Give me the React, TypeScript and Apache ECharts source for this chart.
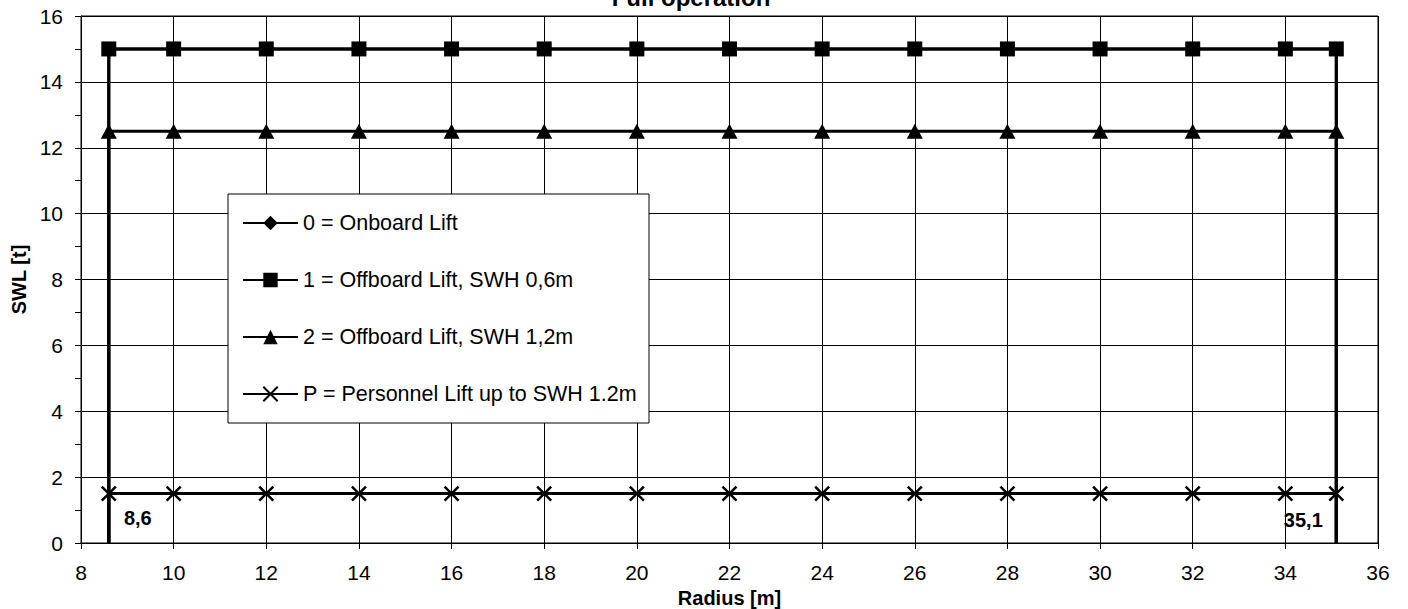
import React, { useEffect, useRef } from "react";
import * as echarts from "echarts";

const FONT = "'Liberation Sans', Arial, Helvetica, sans-serif";

const titleText = "Full operation";
const xAxisName = "Radius [m]";
const yAxisName = "SWL [t]";

const radiusPoints = [8.6, 10, 12, 14, 16, 18, 20, 22, 24, 26, 28, 30, 32, 34, 35.1];
const onboardLift = [15, 15, 15, 15, 15, 15, 15, 15, 15, 15, 15, 15, 15, 15, 15];
const offboard06 = [15, 15, 15, 15, 15, 15, 15, 15, 15, 15, 15, 15, 15, 15, 15];
const offboard12 = [12.5, 12.5, 12.5, 12.5, 12.5, 12.5, 12.5, 12.5, 12.5, 12.5, 12.5, 12.5, 12.5, 12.5, 12.5];
const personnel = [1.5, 1.5, 1.5, 1.5, 1.5, 1.5, 1.5, 1.5, 1.5, 1.5, 1.5, 1.5, 1.5, 1.5, 1.5];

const seriesNames = [
  "0 = Onboard Lift",
  "1 = Offboard Lift, SWH 0,6m",
  "2 = Offboard Lift, SWH 1,2m",
  "P = Personnel Lift up to SWH 1.2m",
];

const limitRadii = [8.6, 35.1];
const limitLabels = ["8,6", "35,1"];

const X_PATH = "path://M0 0 L10 10 M10 0 L0 10";

function buildData(values: number[]) {
  const pts: any[] = [];
  pts.push({ value: [radiusPoints[0], 0], symbolSize: 0 });
  radiusPoints.forEach((r, i) => pts.push([r, values[i]]));
  pts.push({ value: [radiusPoints[radiusPoints.length - 1], 0], symbolSize: 0 });
  return pts;
}

export default function App() {
  const ref = useRef<HTMLDivElement>(null);
  useEffect(() => {
    if (!ref.current) return;
    const chart = echarts.init(ref.current, null, { renderer: "svg" });
    const lineStyle = { color: "#000", width: 3 };
    const option: any = {
      animation: false,
      backgroundColor: "#fff",
      textStyle: { fontFamily: FONT, color: "#000" },
      graphic: [
        {
          type: "text",
          x: 691,
          y: -15,
          style: {
            text: titleText,
            font: `bold 24px ${FONT}`,
            fill: "#000",
            textAlign: "center",
            textVerticalAlign: "top",
          },
        },
      ],
      grid: {
        left: 81,
        right: 30,
        top: 16,
        bottom: 66,
        containLabel: false,
        outerBoundsMode: "none",
        show: true,
        borderColor: "#000",
        borderWidth: 1,
        backgroundColor: "transparent",
      },
      legend: {
        data: seriesNames,
        orient: "vertical",
        left: 228,
        top: 194,
        backgroundColor: "#fff",
        borderColor: "#000",
        borderWidth: 1,
        padding: [18, 12, 18, 14],
        itemGap: 35,
        itemWidth: 55,
        itemHeight: 18,
        textStyle: { fontFamily: FONT, fontSize: 21.5, color: "#000" },
        inactiveColor: "#000",
      },
      xAxis: {
        type: "value",
        min: 8,
        max: 36,
        interval: 2,
        name: xAxisName,
        nameLocation: "middle",
        nameGap: 38,
        nameTextStyle: { fontFamily: FONT, fontSize: 20, fontWeight: "bold", color: "#000" },
        axisLine: { show: true, lineStyle: { color: "#000", width: 1 } },
        axisTick: { show: true, length: 6, lineStyle: { color: "#000" } },
        axisLabel: { fontFamily: FONT, fontSize: 21, color: "#000", margin: 19 },
        splitLine: { show: true, lineStyle: { color: "#000", width: 1 } },
      },
      yAxis: {
        type: "value",
        min: 0,
        max: 16,
        interval: 2,
        name: yAxisName,
        nameLocation: "middle",
        nameGap: 49,
        nameTextStyle: { fontFamily: FONT, fontSize: 20, fontWeight: "bold", color: "#000" },
        axisLine: { show: true, lineStyle: { color: "#000", width: 1 } },
        axisTick: { show: true, length: 6, lineStyle: { color: "#000" } },
        minorTick: { show: true, splitNumber: 2, length: 6, lineStyle: { color: "#000" } },
        axisLabel: { fontFamily: FONT, fontSize: 21, color: "#000", margin: 18 },
        splitLine: { show: true, lineStyle: { color: "#000", width: 1 } },
      },
      series: [
        {
          name: seriesNames[0],
          type: "line",
          data: buildData(onboardLift),
          symbol: "diamond",
          symbolSize: 13,
          clip: false,
          itemStyle: { color: "#000" },
          lineStyle,
          z: 2,
        },
        {
          name: seriesNames[1],
          type: "line",
          data: buildData(offboard06),
          symbol: "rect",
          symbolSize: 15,
          clip: false,
          itemStyle: { color: "#000" },
          lineStyle,
          z: 3,
        },
        {
          name: seriesNames[2],
          type: "line",
          data: buildData(offboard12),
          symbol: "triangle",
          symbolSize: [16, 15],
          clip: false,
          itemStyle: { color: "#000" },
          lineStyle,
          z: 3,
        },
        {
          name: seriesNames[3],
          type: "line",
          data: buildData(personnel),
          symbol: X_PATH,
          symbolSize: 14,
          clip: false,
          itemStyle: { color: "none", borderColor: "#000", borderWidth: 2.5 },
          lineStyle,
          z: 3,
        },
        {
          name: "limits",
          type: "scatter",
          data: limitRadii.map((r, i) => ({
            value: [r, 0],
            label: {
              show: true,
              formatter: limitLabels[i],
              position: "inside",
              offset: i === 0 ? [29, -25] : [-33, -23],
            },
          })),
          symbolSize: 1,
          itemStyle: { color: "transparent", opacity: 1 },
          label: {
            fontFamily: FONT,
            fontSize: 20,
            fontWeight: "bold",
            color: "#000",
            textBorderWidth: 0,
            opacity: 1,
          },
          silent: true,
          z: 4,
        },
      ],
    };
    chart.setOption(option);
    return () => chart.dispose();
  }, []);
  return (
    <div
      ref={ref}
      style={{ position: "fixed", left: 0, top: 0, width: 1408, height: 609, background: "#fff" }}
    />
  );
}
